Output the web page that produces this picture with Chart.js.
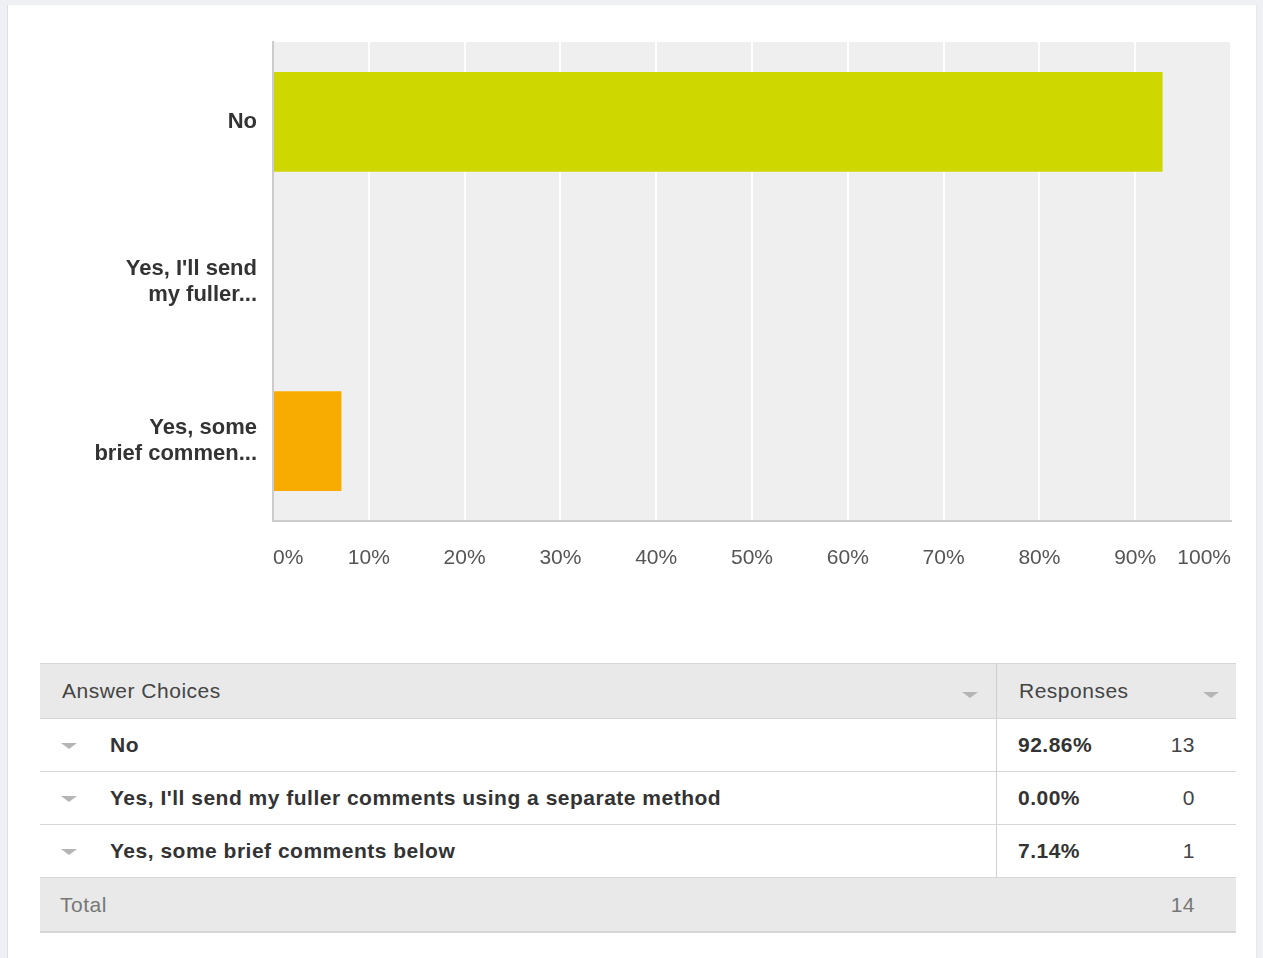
<!DOCTYPE html>
<html>
<head>
<meta charset="utf-8">
<script src="https://cdn.jsdelivr.net/npm/chart.js@4"></script>
<style>
    html, body { margin: 0; padding: 0; }
    body {
        width: 1263px; height: 958px; overflow: hidden;
        background: #eef0f3;
        font-family: "Liberation Sans", Arial, Helvetica, sans-serif;
        position: relative;
    }
    .panel {
        position: absolute; left: 7px; top: 5px; width: 1248px; height: 953px;
        background: #fff;
        border-left: 1px solid #dcdfe3;
        border-right: 1px solid #e6e8eb;
    }
    .chart-box { position: absolute; left: 0; top: 0; width: 1263px; height: 610px; }
    table {
        position: absolute; left: 40px; top: 663px; width: 1196px;
        border-collapse: collapse; font-size: 21px; color: #333; letter-spacing: 0.5px;
    }
    td, th { padding: 0; height: 52px; border-bottom: 1px solid #d6d6d6; white-space: nowrap; }
    thead th {
        background: #e9e9e9; font-weight: normal; text-align: left; color: #444;
        border-top: 1px solid #d6d6d6; height: 54px; position: relative;
    }
    th.choices { padding-left: 22px; width: 934px; border-right: 1px solid #d0d0d0; }
    th.resp { padding-left: 22px; }
    .caret {
        display: inline-block; width: 0; height: 0;
        border-left: 8px solid transparent; border-right: 8px solid transparent;
        border-top: 6px solid #b5b5b5; position: absolute;
    }
    th .caret { top: 28px; }
    td.choice { font-weight: bold; position: relative; padding-left: 70px; border-right: 1px solid #d0d0d0; }
    td.choice .caret { left: 21px; top: 24px; }
    td.pct { font-weight: bold; padding-left: 21px; width: 110px; }
    td.cnt { text-align: right; padding-right: 41px; color: #444; }
    tr.total td { background: #e9e9e9; color: #777; height: 53px; border-bottom: 2px solid #d6d6d6; }
    tr.total td.lbl { padding-left: 20px; }
</style>
</head>
<body>
<div class="panel"></div>
<div class="chart-box"><canvas id="chart" width="1263" height="610"></canvas></div>

<table>
    <thead>
        <tr>
            <th class="choices">Answer Choices<span class="caret" style="left:922px"></span></th>
            <th class="resp" colspan="2">Responses<span class="caret" style="left:206px"></span></th>
        </tr>
    </thead>
    <tbody id="rows"></tbody>
</table>

<script>
// Survey data
const categories = ['No', "Yes, I'll send my fuller comments using a separate method", 'Yes, some brief comments below'];
const axisLabels = [['No'], ["Yes, I'll send", 'my fuller...'], ['Yes, some', 'brief commen...']];
const percentages = [92.86, 0.00, 7.14];
const counts = [13, 0, 1];
const total = 14;
const barColors = ['#cfd700', '#f8ab00', '#f8ab00'];

// Table below the chart
const rows = document.getElementById('rows');
rows.innerHTML = categories.map((c, i) => `
    <tr>
        <td class="choice"><span class="caret"></span>${c}</td>
        <td class="pct">${percentages[i].toFixed(2)}%</td>
        <td class="cnt">${counts[i]}</td>
    </tr>
`).join('') + `
    <tr class="total">
        <td class="lbl" colspan="2">Total</td>
        <td class="cnt">${total}</td>
    </tr>`;

// grey plot background
const plotBg = {
    id: 'plotBg',
    beforeDraw(chart) {
        const { ctx, chartArea: a } = chart;
        ctx.save();
        ctx.fillStyle = '#efefef';
        ctx.fillRect(a.left, a.top, a.right - a.left, a.bottom - a.top);
        ctx.restore();
    }
};

const ctx = document.getElementById('chart').getContext('2d');
new Chart(ctx, {
    type: 'bar',
    data: {
        labels: axisLabels,
        datasets: [{
            data: percentages,
            backgroundColor: barColors,
            barPercentage: 0.625,
            categoryPercentage: 1
        }]
    },
    options: {
        indexAxis: 'y',
        responsive: false,
        animation: false,
        layout: { padding: { top: 41, right: 32, left: 0, bottom: 29 } },
        plugins: { legend: { display: false }, tooltip: { enabled: false } },
        scales: {
            x: {
                min: 0, max: 100,
                ticks: {
                    stepSize: 10,
                    align: 'inner',
                    padding: 25,
                    color: '#555',
                    font: { family: '"Liberation Sans", Arial, sans-serif', size: 21 },
                    callback: v => v + '%'
                },
                grid: { color: '#ffffff', lineWidth: 2, drawTicks: false },
                border: { color: '#cccccc', width: 2 },
                afterFit: s => { s.height = 60; }
            },
            y: {
                ticks: {
                    padding: 16,
                    color: '#333',
                    font: { family: '"Liberation Sans", Arial, sans-serif', size: 22, weight: 'bold', lineHeight: 1.18 }
                },
                grid: { display: false, drawTicks: false },
                border: { color: '#cccccc', width: 2 },
                afterFit: s => { s.width = 273; }
            }
        }
    },
    plugins: [plotBg]
});
</script>
</body>
</html>
